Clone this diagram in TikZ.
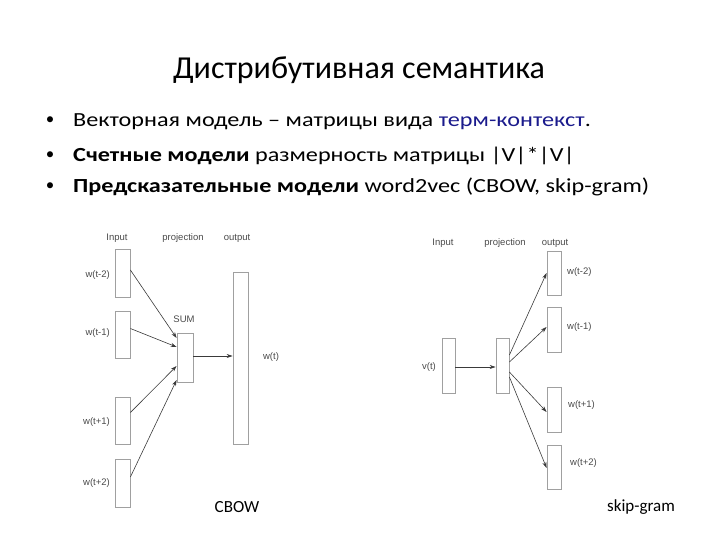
\documentclass[tikz,border=0pt]{standalone}
\usepackage{fontspec}
\usepackage{graphicx}
\setmainfont{Carlito}
\newfontfamily\diagfont{Liberation Sans}
\usetikzlibrary{arrows.meta}
\definecolor{termblue}{HTML}{1A1A8C}
\definecolor{boxgray}{HTML}{A0A0A0}
\definecolor{linegray}{HTML}{3A3A3A}
\definecolor{labgray}{HTML}{4A4A4A}
\newcommand{\wide}[1]{\scalebox{1.21}[1]{#1}}
\begin{document}
\begin{tikzpicture}[x=1pt,y=-1pt,
  box/.style={draw=boxgray,line width=0.8pt,fill=white,inner sep=0pt,minimum width=15pt},
  arr/.style={draw=linegray,line width=0.6pt,-{Stealth[length=6pt,width=4pt]}},
  lab/.style={font=\diagfont\fontsize{9.5}{11}\selectfont,text=labgray,inner sep=0pt},
  body/.style={font=\fontsize{20}{24}\selectfont,anchor=base west,inner sep=0pt},
  bul/.style={font=\fontsize{17}{20}\selectfont,anchor=base,inner sep=0pt}]
\useasboundingbox (0,0) rectangle (720,540);
% title and bullets
\node[font=\fontsize{32}{36}\selectfont,anchor=base,inner sep=0pt] (title) at (359,79) {Дистрибутивная семантика};
\node[bul] (b1) at (50,125) {•};
\node[bul] (b2) at (50,160) {•};
\node[bul] (b3) at (50,191) {•};
\node[body] (t1) at (73,127) {\wide{Векторная модель – матрицы вида \textcolor{termblue}{терм-контекст}.}};
\node[body] (t2) at (73,162) {\wide{\textbf{Счетные модели} размерность матрицы |V|*|V|}};
\node[body] (t3) at (73,193) {\wide{\textbf{Предсказательные модели} word2vec (CBOW, skip-gram)}};
% CBOW
\node[lab] (ci) at (117,238) {Input};
\node[lab] (cp) at (183,238) {projection};
\node[lab] (co) at (237,238) {output};
\node[box,minimum height=48pt] (i1) at (122.5,273) {};
\node[box,minimum height=47pt] (i2) at (122.5,334.5) {};
\node[box,minimum height=47pt] (i3) at (122.5,420.5) {};
\node[box,minimum height=48pt] (i4) at (122.5,483) {};
\node[box,minimum width=16pt,minimum height=49pt] (p) at (185,357.5) {};
\node[box,minimum height=172pt] (o) at (240.5,358) {};
\node[lab,anchor=east] (l1) at (110,275) {w(t-2)};
\node[lab,anchor=east] (l2) at (110,333) {w(t-1)};
\node[lab,anchor=east] (l3) at (110,422) {w(t+1)};
\node[lab,anchor=east] (l4) at (110,483) {w(t+2)};
\node[lab] (sum) at (184,319) {SUM};
\node[lab] (wt) at (271,357) {w(t)};
\draw[arr] ([yshift=3pt]i1.east) -- ([yshift=19.5pt]p.west);
\draw[arr] ([yshift=6pt]i2.east) -- ([yshift=10.5pt]p.west);
\draw[arr] ([yshift=8pt]i3.east) -- ([yshift=-8.5pt]p.west);
\draw[arr] ([yshift=6pt]i4.east) -- ([yshift=-22.5pt]p.west);
\draw[arr] ([yshift=1.5pt]p.east) -- ([yshift=2pt]o.west);
\node[font=\fontsize{17}{20}\selectfont,inner sep=0pt] (cbow) at (237,507) {CBOW};
% skip-gram
\node[lab] (si) at (443,243) {Input};
\node[lab] (sp) at (505,243) {projection};
\node[lab] (so) at (555,243) {output};
\node[box,minimum width=13pt,minimum height=55pt] (vin) at (448.5,365.5) {};
\node[box,minimum width=13pt,minimum height=55pt] (vp) at (502.5,365.5) {};
\node[box,minimum width=14pt,minimum height=44pt] (o1) at (554,273) {};
\node[box,minimum width=14pt,minimum height=45pt] (o2) at (554,329.5) {};
\node[box,minimum width=14pt,minimum height=45pt] (o3) at (554,409.5) {};
\node[box,minimum width=14pt,minimum height=44pt] (o4) at (554,467) {};
\node[lab,anchor=east] (vt) at (436,367) {v(t)};
\node[lab,anchor=west] (m1) at (567,272) {w(t-2)};
\node[lab,anchor=west] (m2) at (567,327) {w(t-1)};
\node[lab,anchor=west] (m3) at (568,405) {w(t+1)};
\node[lab,anchor=west] (m4) at (570,463) {w(t+2)};
\draw[arr] ([yshift=-1.5pt]vin.east) -- ([yshift=-1.5pt]vp.west);
\draw[arr] ([yshift=10.5pt]vp.east) -- (o1.west);
\draw[arr] ([yshift=3.5pt]vp.east) -- ([yshift=2.5pt]o2.west);
\draw[arr] ([yshift=-6.5pt]vp.east) -- ([yshift=-2.5pt]o3.west);
\draw[arr] ([yshift=-11.5pt]vp.east) -- ([yshift=-1pt]o4.west);
\node[font=\fontsize{17}{20}\selectfont,inner sep=0pt] (sg) at (641,507) {skip-gram};
\end{tikzpicture}
\end{document}
